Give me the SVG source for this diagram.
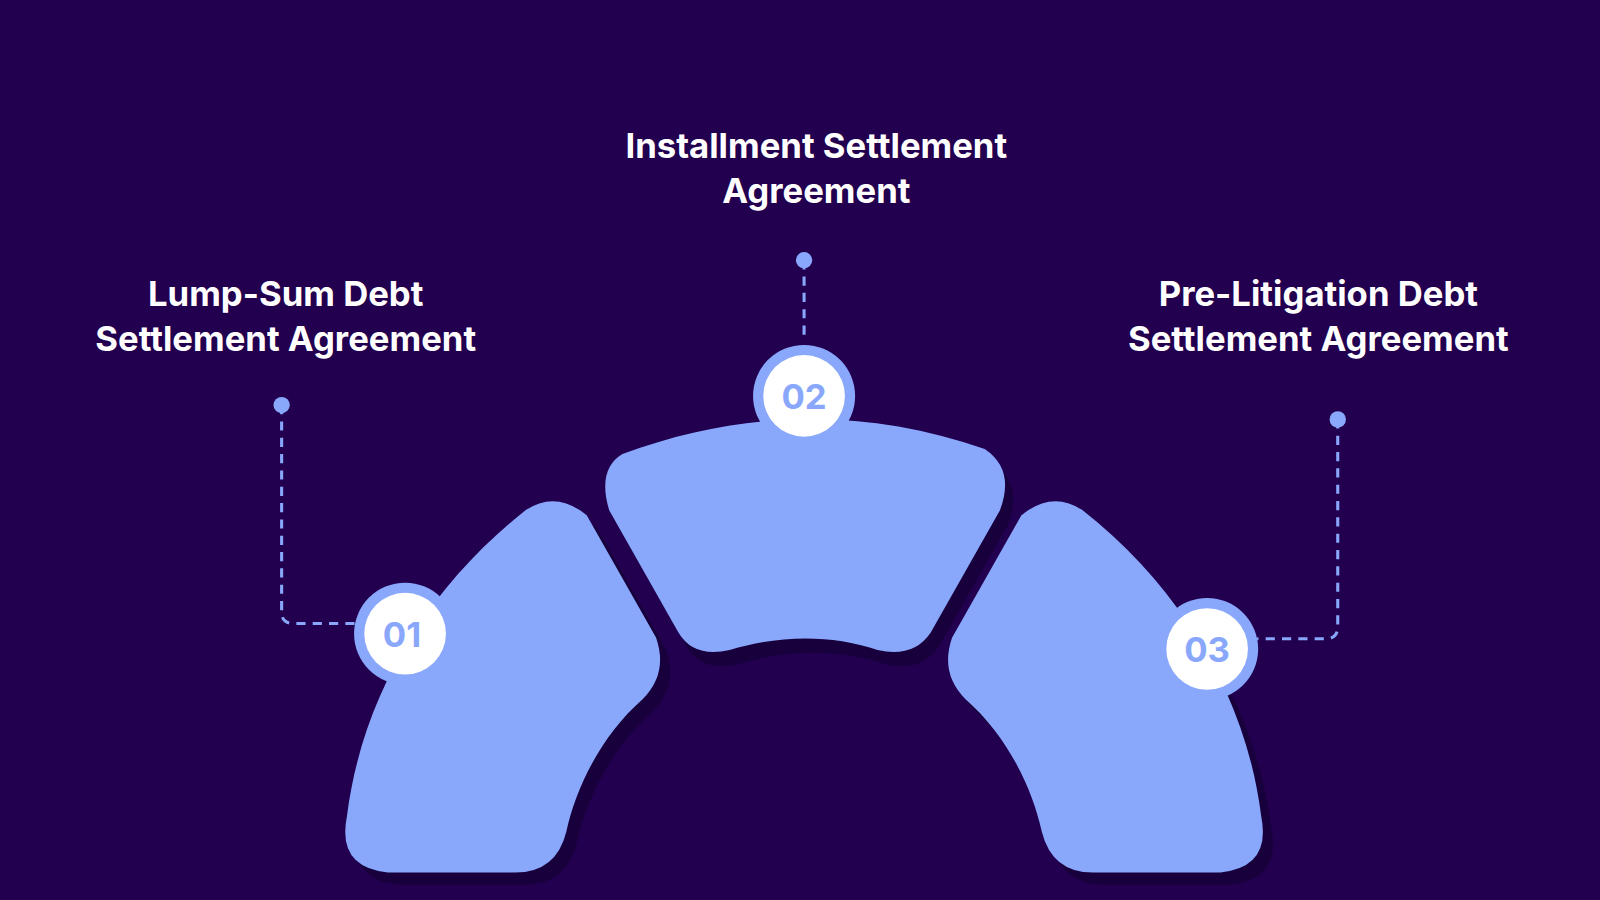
<svg xmlns="http://www.w3.org/2000/svg" width="1600" height="900" viewBox="0 0 1600 900">
<style>
.seg{fill:#8aa8fb}
.sh{fill:#18003d}
.t{font-family:Inter,"Liberation Sans",sans-serif;font-weight:700;font-size:34px;fill:#ffffff;text-anchor:middle}
.n{font-family:Inter,"Liberation Sans",sans-serif;font-weight:700;font-size:34px;fill:#8aa8fb;text-anchor:middle}
.d{fill:none;stroke:#8aa8fb;stroke-width:3;stroke-dasharray:9 7}
</style>
<defs>
<path id="L" d="M340,800 C355,680 420,575 515,500 Q545,480 575,505 L643,625 Q655,660 630,685 C590,720 565,770 555,815 Q545,855 505,855 L380,855 Q330,850 340,800 Z"/>
<path id="C" d="M610,445 C730,400 850,400 965,440 Q995,460 980,500 L912,620 Q895,645 860,637 C815,622 765,622 715,637 Q680,645 665,620 L597,500 Q585,460 610,445 Z"/>
<path id="R" d="M1236,800 C1221,680 1156,575 1061,500 Q1031,480 1001,505 L933,625 Q921,660 946,685 C986,720 1011,770 1021,815 Q1031,855 1071,855 L1196,855 Q1246,850 1236,800 Z"/>
</defs>
<rect width="1600" height="900" fill="#22004f"/>
<g transform="scale(1.0204)">
<g id="connectors">
<path class="d" d="M276,397 L276,600 Q276,611 288,611 L352,611"/>
<path class="d" d="M788,255 L788,335"/>
<path class="d" d="M1311,411 L1311,614 Q1311,626 1299,626 L1232,626"/>
<circle cx="276" cy="397" r="8" fill="#8aa8fb"/>
<circle cx="788" cy="255" r="8" fill="#8aa8fb"/>
<circle cx="1311" cy="411" r="8" fill="#8aa8fb"/>
</g>
<g id="node1">
<use href="#L" class="sh" transform="translate(10,12)"/>
<use href="#L" class="seg"/>
<circle cx="397" cy="621" r="50" fill="#8aa8fb"/><circle cx="397" cy="621" r="40" fill="#fff"/>
<text class="n" x="394" y="634">01</text>
<text class="t" x="280" y="300">Lump-Sum Debt</text>
<text class="t" x="280" y="344">Settlement Agreement</text>
</g>
<g id="node2">
<use href="#C" class="sh" transform="translate(8,14)"/>
<use href="#C" class="seg"/>
<circle cx="788" cy="388" r="50" fill="#8aa8fb"/><circle cx="788" cy="388" r="40" fill="#fff"/>
<text class="n" x="788" y="401">02</text>
<text class="t" x="800" y="155">Installment Settlement</text>
<text class="t" x="800" y="199">Agreement</text>
</g>
<g id="node3">
<use href="#R" class="sh" transform="translate(10,12)"/>
<use href="#R" class="seg"/>
<circle cx="1183" cy="636" r="50" fill="#8aa8fb"/><circle cx="1183" cy="636" r="40" fill="#fff"/>
<text class="n" x="1183" y="649">03</text>
<text class="t" x="1292" y="300">Pre-Litigation Debt</text>
<text class="t" x="1292" y="344">Settlement Agreement</text>
</g>
</g>
</svg>
